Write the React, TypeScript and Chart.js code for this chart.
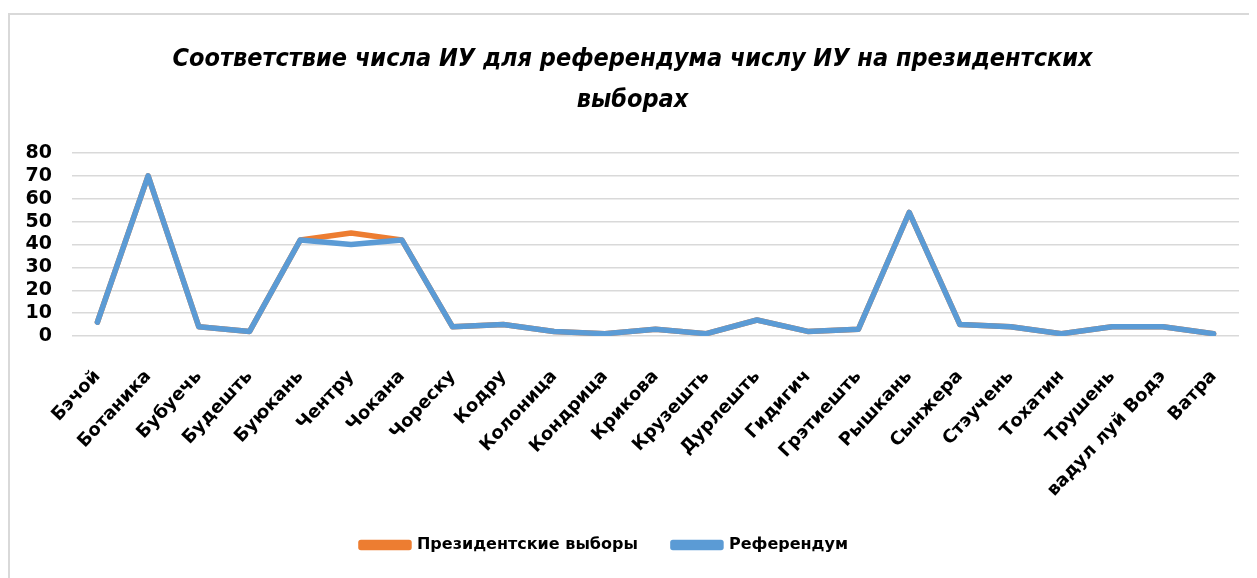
import React, { useEffect, useRef } from "react";
import { Chart, registerables } from "chart.js";

Chart.register(...registerables);

const categories = [
  "Бэчой", "Ботаника", "Бубуечь", "Будешть", "Буюкань", "Чентру", "Чокана",
  "Чореску", "Кодру", "Колоница", "Кондрица", "Крикова", "Крузешть", "Дурлешть",
  "Гидигич", "Грэтиешть", "Рышкань", "Сынжера", "Стэучень", "Тохатин", "Трушень",
  "вадул луй Водэ", "Ватра",
];
const presidential = [6, 70, 4, 2, 42, 45, 42, 4, 5, 2, 1, 3, 1, 7, 2, 3, 54, 5, 4, 1, 4, 4, 1];
const referendum = [6, 70, 4, 2, 42, 40, 42, 4, 5, 2, 1, 3, 1, 7, 2, 3, 54, 5, 4, 1, 4, 4, 1];
const titleLines = [
  "Соответствие числа ИУ для референдума числу ИУ на президентских",
  "выборах",
];
const seriesNames = ["Президентские выборы", "Референдум"];
const yTicks = [0, 10, 20, 30, 40, 50, 60, 70, 80];

const FONT = "'DejaVu Sans', 'Liberation Sans', sans-serif";

const legendShift = {
  id: "legendShift",
  afterLayout(chart: any) {
    const lg = chart.legend;
    if (lg) {
      lg.left -= 28;
      lg.right -= 28;
    }
  },
};

const noPadding = () => ({ left: 0, right: 0, top: 0, bottom: 0 });

export default function App() {
  const ref = useRef<HTMLCanvasElement | null>(null);
  useEffect(() => {
    if (!ref.current) return;
    const chart = new Chart(ref.current, {
      type: "line",
      plugins: [legendShift],
      data: {
        labels: categories,
        datasets: [
          {
            label: seriesNames[0],
            data: presidential,
            borderColor: "#ED7D31",
            backgroundColor: "#ED7D31",
            borderWidth: 5.5,
            pointRadius: 0,
            borderJoinStyle: "round",
            borderCapStyle: "round",
            order: 1,
          },
          {
            label: seriesNames[1],
            data: referendum,
            borderColor: "#5B9BD5",
            backgroundColor: "#5B9BD5",
            borderWidth: 5.5,
            pointRadius: 0,
            borderJoinStyle: "round",
            borderCapStyle: "round",
            order: 0,
          },
        ],
      },
      options: {
        responsive: false,
        animation: false,
        layout: { padding: { left: 16, right: 18, top: 0, bottom: 15 } },
        plugins: {
          tooltip: { enabled: false },
          title: {
            display: true,
            text: titleLines,
            color: "#000",
            font: {
              family: "'Liberation Sans Narrow', 'DejaVu Sans Condensed', 'Liberation Sans', sans-serif",
              size: 25,
              weight: "bold",
              style: "italic",
              lineHeight: 41 / 25,
            },
            padding: { top: 24, bottom: 32 },
          },
          legend: {
            position: "bottom",
            labels: {
              color: "#000",
              font: { family: FONT, size: 16, weight: "bold" },
              boxWidth: 48,
              boxHeight: 5,
              padding: 35,
              sort: (a: any, b: any) => a.datasetIndex - b.datasetIndex,
            },
          },
        },
        scales: {
          x: {
            offset: true,
            grid: { display: false, drawTicks: false },
            border: { display: false },
            afterFit: (scale: any) => {
              scale.height = 166;
              scale.paddingLeft = 0;
              scale.paddingRight = 0;
              scale.getPadding = noPadding;
            },
            ticks: {
              color: "#000",
              font: { family: FONT, size: 18, weight: "bold" },
              maxRotation: 47,
              minRotation: 47,
              autoSkip: false,
              padding: 30,
            },
          },
          y: {
            min: 0,
            max: 80,
            afterBuildTicks: (axis: any) => {
              axis.ticks = yTicks.map((v) => ({ value: v }));
            },
            afterFit: (scale: any) => {
              scale.width = 46;
            },
            grid: { color: "#d9d9d9", lineWidth: 1.5, drawTicks: false },
            border: { display: false },
            ticks: {
              color: "#000",
              font: { family: FONT, size: 19, weight: "bold" },
              padding: 20,
              autoSkip: false,
            },
          },
        },
      },
    });
    return () => chart.destroy();
  }, []);

  return (
    <div
      style={{
        marginTop: 5,
        width: 1249,
        height: 565,
        boxSizing: "border-box",
        borderLeft: "2px solid #d9d9d9",
        borderTop: "2px solid #d9d9d9",
        background: "#fff",
        overflow: "hidden",
      }}
    >
      <canvas ref={ref} width={1247} height={563} style={{ display: "block" }} />
    </div>
  );
}
